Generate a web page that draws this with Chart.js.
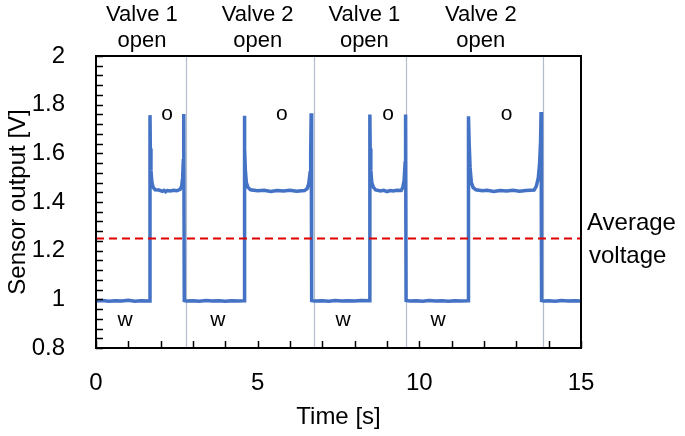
<!DOCTYPE html>
<html>
<head>
<meta charset="utf-8">
<script src="https://cdn.jsdelivr.net/npm/chart.js@4/dist/chart.umd.min.js"></script>
<style>
  body { margin: 0; background: #fff; }
  #wrap { width: 685px; height: 436px; }
</style>
</head>
<body>
<div id="wrap"><canvas id="myChart"></canvas></div>
<script>
// Sensor trace (time in s, output in V)
const timeS = [
  0, 0.2, 0.4, 0.6, 0.8, 1.0, 1.2, 1.4, 1.6, 1.66,
  1.67, 1.68, 1.70, 1.73, 1.77, 1.83, 1.95, 2.05, 2.1, 2.15, 2.2, 2.3, 2.4, 2.5, 2.6, 2.65, 2.68, 2.70, 2.715,
  2.73, 2.8, 3.0, 3.2, 3.4, 3.6, 3.8, 4.0, 4.2, 4.4, 4.58,
  4.59, 4.60, 4.62, 4.65, 4.70, 4.78, 5.0, 5.2, 5.4, 5.6, 5.8, 6.0, 6.2, 6.45, 6.53, 6.58, 6.62, 6.64, 6.655,
  6.67, 6.75, 7.0, 7.2, 7.4, 7.6, 7.8, 8.0, 8.2, 8.46,
  8.47, 8.48, 8.50, 8.53, 8.58, 8.65, 8.8, 8.9, 9.0, 9.1, 9.2, 9.3, 9.44, 9.49, 9.53, 9.56, 9.575,
  9.59, 9.7, 9.9, 10.1, 10.3, 10.5, 10.7, 10.9, 11.1, 11.3, 11.51,
  11.52, 11.54, 11.57, 11.61, 11.66, 11.75, 11.95, 12.1, 12.3, 12.5, 12.7, 12.9, 13.1, 13.3, 13.55, 13.62, 13.68, 13.72, 13.75, 13.765,
  13.78, 13.85, 14.0, 14.2, 14.4, 14.6, 14.8, 15.0
];
const sensorV = [
  0.993, 0.995, 0.992, 0.994, 0.993, 0.996, 0.992, 0.994, 0.993, 0.993,
  1.757, 1.62, 1.53, 1.48, 1.46, 1.45, 1.449, 1.444, 1.448, 1.442, 1.447, 1.445, 1.448, 1.446, 1.452, 1.465, 1.50, 1.57, 1.762,
  0.995, 0.993, 0.994, 0.992, 0.995, 0.993, 0.994, 0.992, 0.994, 0.993, 0.994,
  1.754, 1.62, 1.53, 1.48, 1.46, 1.45, 1.446, 1.448, 1.443, 1.447, 1.445, 1.448, 1.444, 1.447, 1.455, 1.475, 1.52, 1.60, 1.765,
  0.995, 0.993, 0.994, 0.992, 0.995, 0.993, 0.994, 0.993, 0.995, 0.994,
  1.76, 1.62, 1.53, 1.48, 1.46, 1.45, 1.445, 1.448, 1.443, 1.447, 1.445, 1.448, 1.447, 1.46, 1.49, 1.56, 1.76,
  0.995, 0.993, 0.994, 0.992, 0.995, 0.993, 0.994, 0.992, 0.994, 0.993, 0.994,
  1.752, 1.645, 1.54, 1.48, 1.46, 1.45, 1.446, 1.448, 1.443, 1.447, 1.445, 1.448, 1.444, 1.447, 1.449, 1.465, 1.50, 1.56, 1.65, 1.77,
  0.995, 0.993, 0.994, 0.992, 0.995, 0.993, 0.994, 0.993
];

// Average voltage
const avgTime = [0, 15];
const avgV = [1.25, 1.25];

// Valve switching moments (grey lines)
const switchTimes = [2.78, 6.74, 9.6, 13.83];

// Annotations
const valveLabels = ['Valve 1', 'Valve 2', 'Valve 1', 'Valve 2'];
const valveLabelX = [1.42, 5.0, 8.3, 11.9];
const oLabelX = [2.2, 5.75, 9.03, 12.7];
const oLabelY = [1.76, 1.76, 1.76, 1.76];
const wLabelX = [0.9, 3.77, 7.64, 10.58];
const wLabelY = [0.915, 0.915, 0.915, 0.915];

// Axes
const xTickLabels = [0, 5, 10, 15];
const yTickLabels = [0.8, 1, 1.2, 1.4, 1.6, 1.8, 2];
const xMinorStep = 1;
const yMinorStep = 0.04;

const FONT = "'Liberation Sans', Arial, sans-serif";

const framePlugin = {
  id: 'frame',
  beforeDatasetsDraw(chart) {
    const { ctx, chartArea: a, scales: { x } } = chart;
    ctx.save();
    ctx.strokeStyle = '#b4bccc';
    ctx.lineWidth = 1.2;
    switchTimes.forEach(t => {
      const px = Math.round(x.getPixelForValue(t)) + 0.5;
      ctx.beginPath();
      ctx.moveTo(px, a.top);
      ctx.lineTo(px, a.bottom);
      ctx.stroke();
    });
    ctx.restore();
  },
  afterDraw(chart) {
    const { ctx, chartArea: a, scales: { x, y } } = chart;
    ctx.save();
    ctx.strokeStyle = '#000';
    ctx.lineWidth = 1.5;
    // inward ticks
    for (let v = x.min; v <= x.max + 1e-9; v += xMinorStep) {
      const px = Math.round(x.getPixelForValue(v)) + 0.5;
      ctx.beginPath();
      ctx.moveTo(px, a.bottom);
      ctx.lineTo(px, a.bottom - 7);
      ctx.stroke();
    }
    for (let i = 0; y.min + i * yMinorStep <= y.max + 1e-9; i++) {
      const py = Math.round(y.getPixelForValue(y.min + i * yMinorStep)) + 0.5;
      ctx.beginPath();
      ctx.moveTo(a.left, py);
      ctx.lineTo(a.left + 7, py);
      ctx.stroke();
    }
    // box
    ctx.lineWidth = 2;
    ctx.strokeRect(a.left, a.top, a.right - a.left, a.bottom - a.top);

    // texts
    ctx.fillStyle = '#000';
    ctx.textAlign = 'center';
    ctx.textBaseline = 'alphabetic';
    ctx.font = '22px ' + FONT;
    valveLabels.forEach((s, i) => {
      const px = x.getPixelForValue(valveLabelX[i]);
      ctx.fillText(s, px, 21);
      ctx.fillText('open', px, 47);
    });
    ctx.textBaseline = 'middle';
    ctx.font = '21px ' + FONT;
    oLabelX.forEach((t, i) => ctx.fillText('o', x.getPixelForValue(t), y.getPixelForValue(oLabelY[i])));
    wLabelX.forEach((t, i) => ctx.fillText('w', x.getPixelForValue(t), y.getPixelForValue(wLabelY[i])));
    ctx.textAlign = 'left';
    ctx.font = '24px ' + FONT;
    const ay = y.getPixelForValue(avgV[0]);
    ctx.fillText('Average', a.right + 6, ay - 15);
    ctx.fillText('voltage', a.right + 8, ay + 18);
    ctx.restore();
  }
};

const ctx = document.getElementById('myChart').getContext('2d');
new Chart(ctx, {
  type: 'line',
  data: {
    datasets: [
      {
        label: 'Average voltage',
        data: avgTime.map((t, i) => ({ x: t, y: avgV[i] })),
        borderColor: '#e00000',
        borderWidth: 2,
        borderDash: [8, 5],
        pointRadius: 0,
        fill: false
      },
      {
        label: 'Sensor output',
        data: timeS.map((t, i) => ({ x: t, y: sensorV[i] })),
        borderColor: '#4472c4',
        borderWidth: 3.5,
        pointRadius: 0,
        tension: 0,
        fill: false
      }
    ]
  },
  options: {
    responsive: true,
    maintainAspectRatio: false,
    animation: false,
    layout: { padding: { top: 56, right: 104, left: 0, bottom: 0 } },
    plugins: { legend: { display: false }, tooltip: { enabled: false } },
    scales: {
      x: {
        type: 'linear',
        min: 0,
        max: 15,
        afterFit: s => { s.height = 88; },
        afterBuildTicks: s => { s.ticks = xTickLabels.map(v => ({ value: v })); },
        grid: { display: false },
        border: { display: false },
        ticks: { color: '#000', font: { size: 24, family: FONT }, padding: 13, maxRotation: 0 },
        title: { display: true, text: 'Time [s]', color: '#000', font: { size: 24, family: FONT }, padding: { top: 0 } }
      },
      y: {
        min: 0.8,
        max: 2,
        afterFit: s => { s.width = 96; },
        afterBuildTicks: s => { s.ticks = yTickLabels.map(v => ({ value: v })); },
        grid: { display: false },
        border: { display: false },
        ticks: {
          color: '#000',
          font: { size: 24, family: FONT },
          padding: 23,
          callback: v => String(Math.round(v * 10) / 10)
        },
        title: { display: true, text: 'Sensor output [V]', color: '#000', font: { size: 24, family: FONT }, padding: { top: 4, bottom: 0 } }
      }
    }
  },
  plugins: [framePlugin]
});
</script>
</body>
</html>
